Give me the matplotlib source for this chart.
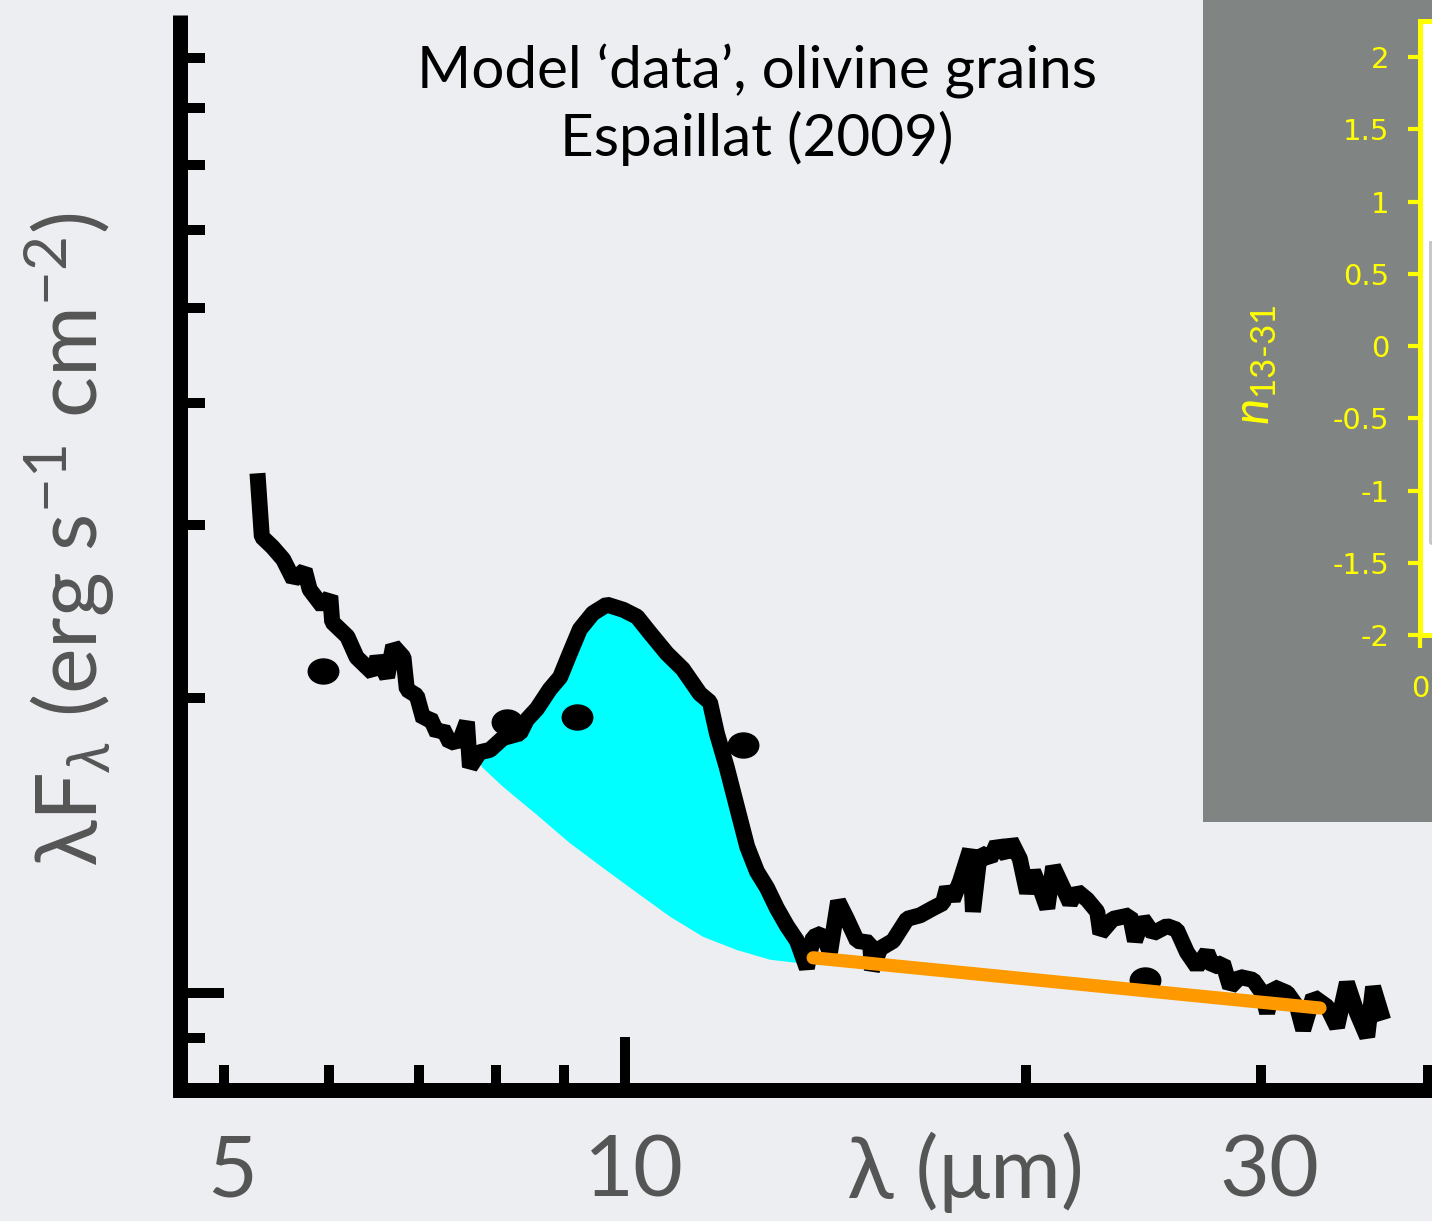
import numpy as np
import matplotlib
matplotlib.use("Agg")
import matplotlib.pyplot as plt
from matplotlib.patches import Rectangle
from matplotlib.markers import MarkerStyle
from matplotlib.transforms import Affine2D, blended_transform_factory

# spectrum (wavelength in micron, lambda F_lambda in 1e-10 erg s-1 cm-2)
wave_um = [5.30, 5.34, 5.44, 5.54, 5.64, 5.75, 5.80, 5.93, 6.01, 6.03,
           6.19, 6.29, 6.47, 6.52, 6.63, 6.70, 6.82, 6.86, 6.98, 7.06,
           7.14, 7.23, 7.30, 7.39, 7.52, 7.61, 7.65, 7.78, 7.92, 8.10,
           8.34, 8.44, 8.59, 8.78, 8.94, 9.09, 9.25, 9.46, 9.69, 9.97,
           10.21, 10.44, 10.75, 11.05, 11.38, 11.58, 11.72, 11.92, 12.13, 12.35,
           12.56, 12.78, 13.00, 13.23, 13.46, 13.69, 13.84, 14.05, 14.25, 14.45,
           14.67, 14.93, 15.27, 15.32, 15.54, 15.89, 16.28, 16.65, 17.02, 17.32,
           17.44, 17.62, 17.84, 18.15, 18.24, 18.46, 18.79, 19.01, 19.34, 19.47,
           19.78, 20.03, 20.24, 20.48, 20.74, 20.95, 21.31, 21.57, 21.83, 22.22,
           22.61, 22.73, 23.23, 23.92, 24.13, 24.46, 24.89, 25.50, 25.94, 26.40,
           26.86, 27.33, 27.62, 28.09, 28.44, 28.93, 29.59, 30.06, 30.32, 30.64,
           31.39, 31.93, 32.27, 32.83, 33.63, 34.21, 34.80, 35.41, 36.04, 36.41,
           37.05]
flux = [3.39, 2.92, 2.85, 2.77, 2.64, 2.70, 2.58, 2.48, 2.54, 2.39,
        2.31, 2.20, 2.12, 2.20, 2.10, 2.26, 2.20, 2.04, 2.01, 1.90,
        1.91, 1.84, 1.86, 1.80, 1.81, 1.89, 1.70, 1.76, 1.77, 1.82,
        1.84, 1.90, 1.95, 2.04, 2.10, 2.22, 2.35, 2.44, 2.49, 2.46,
        2.42, 2.33, 2.22, 2.14, 2.02, 1.98, 1.84, 1.70, 1.55, 1.41,
        1.33, 1.28, 1.22, 1.17, 1.13, 1.06, 1.14, 1.15, 1.10, 1.24,
        1.19, 1.13, 1.125, 1.055, 1.11, 1.13, 1.19, 1.20, 1.22, 1.235,
        1.28, 1.245, 1.30, 1.40, 1.21, 1.39, 1.37, 1.42, 1.38, 1.43,
        1.37, 1.265, 1.33, 1.28, 1.22, 1.345, 1.28, 1.235, 1.27, 1.245,
        1.21, 1.15, 1.19, 1.20, 1.13, 1.19, 1.15, 1.17, 1.16, 1.10,
        1.063, 1.10, 1.063, 1.073, 1.014, 1.038, 1.031, 1.00, 0.954, 1.014,
        1.00, 0.968, 0.917, 0.991, 0.968, 0.923, 1.024, 0.954, 0.902, 1.014,
        0.938]

# continuum under the 10 micron feature
cont_wave = [7.72, 7.81, 8.10, 8.59, 9.09, 9.63, 10.21, 10.81, 11.44, 12.13,
             12.85, 13.46]
cont_flux = [1.76, 1.70, 1.623, 1.519, 1.422, 1.341, 1.265, 1.196, 1.141,
             1.106, 1.081, 1.073]

# photometric points
phot_wave = [5.93, 8.15, 9.20, 12.26, 24.55]
phot_flux = [2.13, 1.89, 1.91, 1.79, 1.03]

# continuum under the 20 micron feature
line_wave = [13.84, 33.22]
line_flux = [1.086, 0.965]

x_minor = [5, 6, 7, 8, 9, 20, 30, 40]
x_labels = [5, 10, 30]
inset_yticks = [-2, -1.5, -1, -0.5, 0, 0.5, 1, 1.5, 2]

plt.rcParams['font.family'] = ['Lato', 'DejaVu Sans']
plt.rcParams['mathtext.fontset'] = 'custom'
plt.rcParams['mathtext.rm'] = 'Lato'
plt.rcParams['mathtext.it'] = 'Lato:italic'

bg = '#eceef1'
grey_txt = '#555555'

fig = plt.figure(figsize=(14.32, 12.21), dpi=100, facecolor=bg)
ax = fig.add_axes([0.1257, 0.1073, 0.8743, 0.8804])
ax.set_facecolor(bg)
ax.set_xscale('log')
ax.set_yscale('log')
ax.set_xlim(4.636, 40.31)
ax.set_ylim(0.796, 9.95)

# cyan silicate feature
w = np.array(wave_um)
f = np.array(flux)
sel = (w >= cont_wave[0]) & (w <= cont_wave[-1])
poly_x = np.concatenate([w[sel], cont_wave[::-1]])
poly_y = np.concatenate([f[sel], cont_flux[::-1]])
ax.fill(poly_x, poly_y, color='#00ffff', lw=0, zorder=1)

ax.plot(wave_um, flux, color='black', lw=11.5, solid_joinstyle='bevel',
        solid_capstyle='butt', zorder=2)
dot = MarkerStyle('o', transform=Affine2D().scale(1.22, 1.0))
ax.plot(phot_wave, phot_flux, ls='none', marker=dot, color='black', ms=18,
        zorder=3)
ax.plot(line_wave, line_flux, color='#ff9900', lw=9.5,
        solid_capstyle='round', zorder=4)

for s in ['top', 'right']:
    ax.spines[s].set_visible(False)
for s in ['left', 'bottom']:
    ax.spines[s].set_linewidth(10.8)
    ax.spines[s].set_color('black')
ax.spines['left'].set_capstyle('butt')

ax.xaxis.set_major_locator(matplotlib.ticker.FixedLocator([10]))
ax.xaxis.set_minor_locator(matplotlib.ticker.FixedLocator(x_minor))
ax.yaxis.set_major_locator(matplotlib.ticker.FixedLocator([1]))
ax.yaxis.set_minor_locator(matplotlib.ticker.FixedLocator(
    [0.9, 2, 3, 4, 5, 6, 7, 8, 9]))
ax.tick_params(which='major', direction='in', length=38, width=7.2,
               color='black', labelbottom=False, labelleft=False)
ax.tick_params(axis='y', which='major', length=32)
ax.tick_params(which='minor', direction='in', length=18, width=7.2,
               color='black', labelbottom=False, labelleft=False)

# slide-style axis labels
tr = blended_transform_factory(ax.transData, fig.transFigure)
for v in x_labels:
    ax.text(v * 1.015, 0.040, str(v), transform=tr, ha='center',
            va='center', fontsize=62, color=grey_txt)
fig.text(0.674, 0.040, 'λ (μm)', ha='center', va='center', fontsize=62,
         color=grey_txt)
fig.text(0.049, 0.558, r'λF$_λ$ (erg s$^{-1}$ cm$^{-2}$)', rotation=90,
         ha='center', va='center', fontsize=62, color=grey_txt)

fig.text(0.5286, 0.914, 'Model ‘data’, olivine grains\nEspaillat (2009)',
         ha='center', va='center', fontsize=42, color='black',
         linespacing=1.25)

# grey panel with the inset plot
panel = fig.add_axes([1203 / 1432, 1 - 822 / 1221, 229 / 1432, 822 / 1221])
panel.set_facecolor('#808583')
panel.set_xticks([])
panel.set_yticks([])
for s in panel.spines.values():
    s.set_visible(False)

axi = fig.add_axes([1420 / 1432, 1 - 635 / 1221, 0.06, 614 / 1221])
axi.set_facecolor('white')
axi.set_ylim(-2, 2.25)
axi.set_xlim(0, 10)
axi.set_yticks(inset_yticks)
axi.set_yticklabels(['%g' % t for t in inset_yticks])
axi.set_xticks([0])
axi.set_xticklabels(['0'])
for s in axi.spines.values():
    s.set_color('yellow')
    s.set_linewidth(3.6)
axi.tick_params(colors='yellow', labelcolor='yellow', length=9, width=3,
                labelsize=21)
axi.tick_params(axis='y', pad=13)
axi.tick_params(axis='x', pad=20)
for lab in axi.get_xticklabels() + axi.get_yticklabels():
    lab.set_family('DejaVu Sans')
axi.add_patch(Rectangle((0.12, 0.15), 1.0, 0.49, transform=axi.transAxes,
                        fill=False, edgecolor='#c4c4c4', lw=2))
axi.set_ylabel(r'$n_{13\text{-}31}$', color='yellow', fontsize=36)
axi.yaxis.set_label_coords(-1.64, 0.44)

fig.savefig('out.png', dpi=100, facecolor=bg)
